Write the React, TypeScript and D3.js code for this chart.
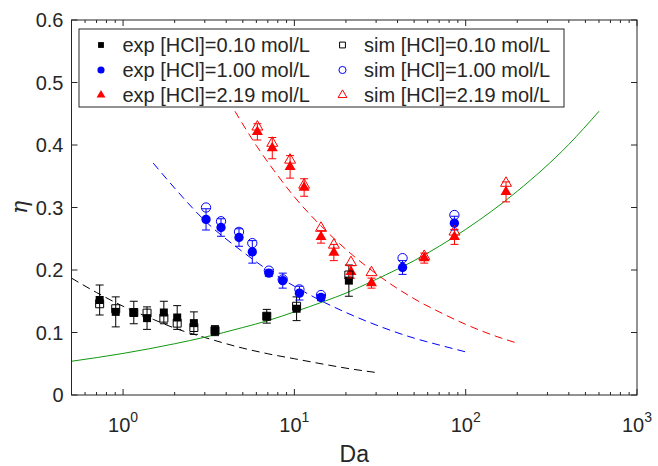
import React from "react";
import * as d3 from "d3";

const blackDa = [0.73, 0.906, 1.155, 1.38, 1.73, 2.07, 2.59, 3.44, 6.9, 10.3, 20.8];
const blackExp = [0.152, 0.133, 0.132, 0.123, 0.132, 0.124, 0.115, 0.103, 0.126, 0.138, 0.183];
const blackErr = [0.024, 0.024, 0.018, 0.018, 0.018, 0.019, 0.018, 0.008, 0.011, 0.019, 0.025];
const blackSim = [0.146, 0.138, 0.132, 0.131, 0.123, 0.115, 0.108, 0.103, 0.126, 0.142, 0.192];

const blueDa = [3.05, 3.73, 4.75, 5.68, 7.1, 8.55, 10.7, 14.3, 42.8, 85.9];
const blueExp = [0.281, 0.268, 0.252, 0.229, 0.195, 0.183, 0.163, 0.156, 0.204, 0.275];
const blueErr = [0.017, 0.014, 0.014, 0.018, 0.005, 0.012, 0.011, 0.005, 0.011, 0.011];
const blueSim = [0.3, 0.278, 0.261, 0.243, 0.199, 0.185, 0.169, 0.16, 0.219, 0.288];

const redDa = [6.08, 7.43, 9.44, 11.4, 14.3, 17.0, 21.4, 28.2, 57.3, 86, 172];
const redExp = [0.421, 0.395, 0.365, 0.332, 0.253, 0.228, 0.197, 0.179, 0.219, 0.253, 0.325];
const redErr = [0.013, 0.017, 0.018, 0.014, 0.01, 0.013, 0.01, 0.008, 0.008, 0.012, 0.016];
const redSim = [0.429, 0.403, 0.376, 0.336, 0.267, 0.24, 0.212, 0.196, 0.222, 0.261, 0.339];

// model curves
const blackCurveDa = [0.5, 0.7, 1, 1.5, 2, 3, 5, 7, 10, 15, 20, 30];
const blackCurveEta = [0.187, 0.164, 0.142, 0.121, 0.107, 0.092, 0.075, 0.066, 0.058, 0.049, 0.043, 0.036];
const blueCurveDa = [1.5, 2, 3, 5, 7, 10, 15, 20, 30, 50, 70, 100];
const blueCurveEta = [0.371, 0.331, 0.279, 0.229, 0.2, 0.174, 0.148, 0.132, 0.112, 0.091, 0.08, 0.069];
const redCurveDa = [4.5, 6, 8, 10, 15, 20, 30, 50, 70, 100, 150, 200];
const redCurveEta = [0.454, 0.399, 0.351, 0.317, 0.265, 0.233, 0.194, 0.154, 0.133, 0.113, 0.094, 0.083];
const greenDa = [0.5, 1, 2, 3, 5, 7, 10, 15, 20, 30, 50, 100, 200, 400, 600];
const greenEta = [0.054, 0.0665, 0.082, 0.0925, 0.108, 0.119, 0.133, 0.15, 0.163, 0.185, 0.215, 0.265, 0.326, 0.401, 0.454];

const yTicks = [0, 0.1, 0.2, 0.3, 0.4, 0.5, 0.6];
const xMajor = [1, 10, 100, 1000];
const xExp = ["0", "1", "2", "3"];
const legendLabels = ["0.10", "1.00", "2.19"];

const W = 658, H = 466;
const L = 71.5, R = 637, T = 20, B = 395;
const axisColor = "#262626";
const font = "'Liberation Sans', Arial, Helvetica, sans-serif";

const x = d3.scaleLog().domain([0.5, 1000]).range([L, R]);
const y = d3.scaleLinear().domain([0, 0.6]).range([B, T]);

const line = d3.line<[number, number]>()
  .x(d => x(d[0]))
  .y(d => y(d[1]))
  .curve(d3.curveMonotoneX);

const series = [
  { da: blackDa, exp: blackExp, err: blackErr, sim: blackSim, color: "#000000", sym: d3.symbolSquare, size: 64, lsize: 34 },
  { da: blueDa, exp: blueExp, err: blueErr, sim: blueSim, color: "#0000ff", sym: d3.symbolCircle, size: 68, lsize: 40 },
  { da: redDa, exp: redExp, err: redErr, sim: redSim, color: "#ff0000", sym: d3.symbolTriangle, size: 52, lsize: 34 },
];

const curves = [
  { da: blackCurveDa, eta: blackCurveEta, color: "#000000", dash: "8,5" },
  { da: blueCurveDa, eta: blueCurveEta, color: "#0000ff", dash: "8,5" },
  { da: redCurveDa, eta: redCurveEta, color: "#ff0000", dash: "8,5" },
  { da: greenDa, eta: greenEta, color: "#119911", dash: "none" },
];

const minorTicks: number[] = [];
[0.1, 1, 10, 100].forEach(d => {
  for (let k = 2; k <= 9; k++) {
    const v = k * d;
    if (v > 0.5 && v < 1000) minorTicks.push(v);
  }
});

function App() {
  return (
    <svg width={W} height={H} style={{ position: "absolute", left: 0, top: 0, background: "#fff" }}
      fontFamily={font}>
      <rect x={0} y={0} width={W} height={H} fill="#fff" />

      {/* curves */}
      {curves.map((c, i) => (
        <path key={"c" + i}
          d={line(c.da.map((d, j) => [d, c.eta[j]] as [number, number])) || ""}
          fill="none" stroke={c.color} strokeWidth={1} strokeDasharray={c.dash} />
      ))}

      {/* exp points with error bars */}
      {series.map((s, i) => (
        <g key={"e" + i} stroke={s.color} fill={s.color}>
          {s.da.map((d, j) => {
            const px = x(d);
            const y0 = y(s.exp[j] - s.err[j]);
            const y1 = y(s.exp[j] + s.err[j]);
            return (
              <g key={j}>
                <line x1={px} x2={px} y1={y0} y2={y1} strokeWidth={1} />
                <line x1={px - 4} x2={px + 4} y1={y0} y2={y0} strokeWidth={1} />
                <line x1={px - 4} x2={px + 4} y1={y1} y2={y1} strokeWidth={1} />
                <path d={d3.symbol().type(s.sym).size(s.size)() || ""}
                  transform={`translate(${px},${y(s.exp[j])})`} stroke="none" />
              </g>
            );
          })}
        </g>
      ))}

      {/* sim points */}
      {series.map((s, i) => (
        <g key={"s" + i} stroke={s.color} fill="none" strokeWidth={1}>
          {s.da.map((d, j) => (
            <path key={j} d={d3.symbol().type(s.sym).size(s.size)() || ""}
              transform={`translate(${x(d)},${y(s.sim[j])})`} />
          ))}
        </g>
      ))}

      {/* axes box */}
      <rect x={L} y={T} width={R - L} height={B - T} fill="none" stroke={axisColor} strokeWidth={1} />

      {yTicks.map(t => (
        <g key={"y" + t}>
          <line x1={L} x2={L + 6} y1={y(t)} y2={y(t)} stroke={axisColor} />
          <line x1={R - 6} x2={R} y1={y(t)} y2={y(t)} stroke={axisColor} />
          <text x={L - 8} y={y(t)} dy="0.36em" textAnchor="end" fontSize={20} fill={axisColor}>
            {String(t)}
          </text>
        </g>
      ))}

      {xMajor.map((t, i) => (
        <g key={"x" + t}>
          <line x1={x(t)} x2={x(t)} y1={B} y2={B - 6} stroke={axisColor} />
          <line x1={x(t)} x2={x(t)} y1={T} y2={T + 6} stroke={axisColor} />
          <text x={x(t)} y={431.5} textAnchor="middle" fontSize={20} fill={axisColor}>
            10<tspan fontSize={14} dy={-9.5}>{xExp[i]}</tspan>
          </text>
        </g>
      ))}
      {minorTicks.map(t => (
        <g key={"m" + t}>
          <line x1={x(t)} x2={x(t)} y1={B} y2={B - 3} stroke={axisColor} />
          <line x1={x(t)} x2={x(t)} y1={T} y2={T + 3} stroke={axisColor} />
        </g>
      ))}

      <text x={(L + R) / 2} y={461.5} textAnchor="middle" fontSize={23} fill={axisColor}>Da</text>
      <text transform={`translate(27,${(T + B) / 2}) rotate(-90)`} textAnchor="middle"
        fontSize={22} fontStyle="italic" fontFamily="'DejaVu Serif', serif" fill={axisColor}>η</text>

      {/* legend */}
      <rect x={79} y={29} width={485} height={78} fill="#fff" stroke={axisColor} strokeWidth={1} />
      {series.map((s, i) => {
        const ly = 45 + i * 25;
        return (
          <g key={"l" + i}>
            <path d={d3.symbol().type(s.sym).size(s.lsize)() || ""}
              transform={`translate(101,${ly})`} fill={s.color} />
            <text x={122.5} y={ly} dy="0.36em" fontSize={20} fill={axisColor}>
              {`exp [HCl]=${legendLabels[i]} mol/L`}
            </text>
            <path d={d3.symbol().type(s.sym).size(s.lsize)() || ""}
              transform={`translate(342.5,${ly})`} fill="none" stroke={s.color} strokeWidth={1} />
            <text x={364} y={ly} dy="0.36em" fontSize={20} fill={axisColor}>
              {`sim [HCl]=${legendLabels[i]} mol/L`}
            </text>
          </g>
        );
      })}
    </svg>
  );
}

export default App;
